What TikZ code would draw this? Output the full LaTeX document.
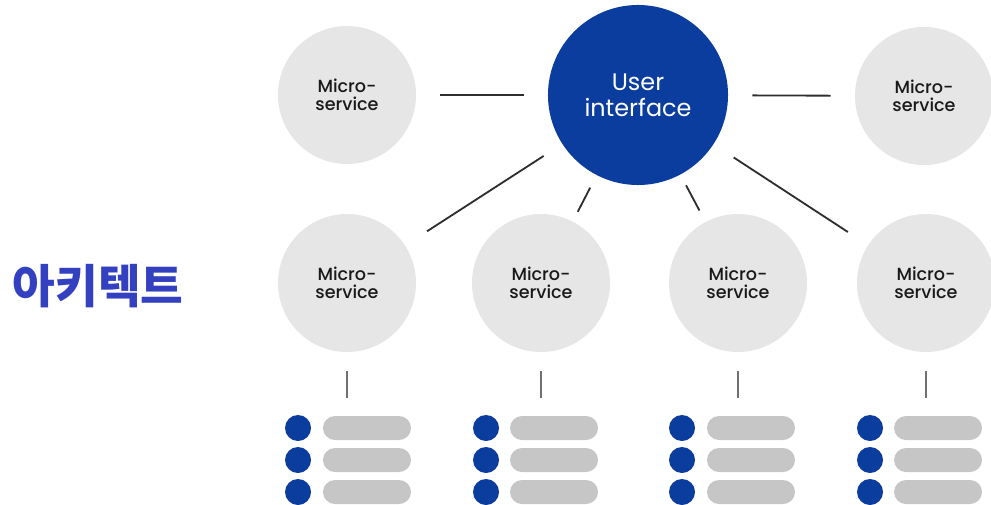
\documentclass[tikz,border=0pt]{standalone}
\usepackage{fontspec}
\setmainfont{Poppins}
\newfontfamily\msfont{Poppins Medium}
\newfontfamily\krfont{Noto Sans CJK KR}
\usepackage{xcolor}
\definecolor{uiblue}{HTML}{0A3D9E}
\definecolor{msgray}{HTML}{E6E6E6}
\definecolor{bargray}{HTML}{C6C6C6}
\definecolor{titleblue}{HTML}{3341C0}
\definecolor{linegray}{HTML}{2E2E2E}
\definecolor{stemgray}{HTML}{707070}

\begin{document}
\begin{tikzpicture}[x=0.025cm,y=-0.025cm,
  ms/.style={circle,fill=msgray,minimum size=3.45cm,inner sep=0pt,align=center,
    text=black!90,font=\msfont\fontsize{12.5}{12.8}\selectfont},
  ui/.style={circle,fill=uiblue,minimum size=4.5cm,inner sep=0pt,align=center,
    text=white,font=\fontsize{17}{18.4}\selectfont},
  dot/.style={circle,fill=uiblue,minimum size=0.65cm,inner sep=0pt},
  bar/.style={fill=bargray,rounded corners=0.3cm,minimum width=2.2cm,minimum height=0.6cm,inner sep=0pt},
  link/.style={linegray,line width=1.3pt},
  stem/.style={stemgray,line width=2pt}]
\useasboundingbox (0,0) rectangle (991,505);

\node[ui] (ui) at (638,95) {User\\interface};
\node[ms] (t1) at (347,95) {Micro-\\service};
\node[ms] (t2) at (924,96) {Micro-\\service};

\foreach \i/\x in {1/347,2/541,3/738,4/926}
  \node[ms] (m\i) at (\x,283) {Micro-\\service};

\foreach \i/\d/\b in {1/298/367,2/486/554,3/682/751,4/870/938}
  \foreach \j/\y in {1/428,2/460,3/492}{
    \node[dot] (d\i\j) at (\d,\y) {};
    \node[bar] (b\i\j) at (\b,\y) {};
  }

\node[font=\krfont\bfseries\fontsize{33}{33}\selectfont,text=titleblue] (title) at (98,286) {아키텍트};

\draw[link,shorten <=0.6cm,shorten >=0.6cm] (t1) -- (ui);
\draw[link,shorten <=0.6cm,shorten >=0.6cm] (ui) -- (t2);
\draw[link,shorten <=0.55cm,shorten >=0.65cm] (ui) -- (m1);
\draw[link,shorten <=0.35cm,shorten >=0.27cm] (ui) -- (m2);
\draw[link,shorten <=0.3cm,shorten >=0.32cm] (ui) -- (m3);
\draw[link,shorten <=0.6cm,shorten >=0.6cm] (ui) -- (m4);

\foreach \i in {1,...,4}
  \draw[stem,shorten <=0.47cm,shorten >=0.45cm] (m\i.south) -- (m\i |- b\i1.north);
\end{tikzpicture}
\end{document}
